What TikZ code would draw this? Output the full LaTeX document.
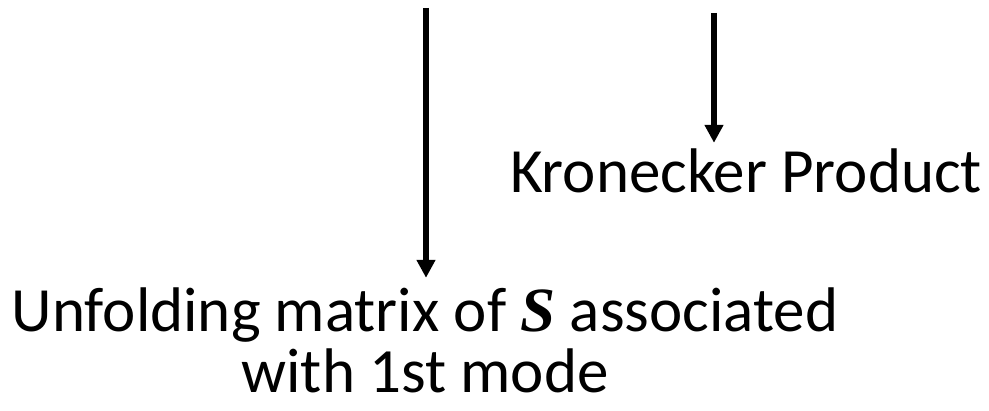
\documentclass[tikz,border=0pt]{standalone}
\usepackage{fontspec}
\setmainfont{Carlito}
\newfontfamily\symbfont{Liberation Serif}
\usetikzlibrary{arrows.meta}
\tikzset{
  label text/.style={inner sep=0pt, font=\fontsize{63}{61}\selectfont, text=black},
  pointer/.style={line width=6pt, -{Triangle[width=18pt,length=18pt]}, black}
}
\begin{document}
\begin{tikzpicture}[x=1pt,y=1pt]
  \useasboundingbox (0,0) rectangle (989,411);
  % captions (the two-line one sits on the baseline of its last line)
  \node[label text, anchor=base, align=center, text height=115pt] (unfold) at (425,18)
    {Unfolding matrix of {\symbfont\bfseries\itshape S} associated\\with 1st mode};
  \node[label text, anchor=base, text height=50pt] (kron) at (746,218) {Kronecker Product};
  % free upper ends of the pointers
  \coordinate (utop) at (426,403);
  \coordinate (ktop) at (714,398);
  % pointers
  \draw[pointer] (utop) -- (utop |- unfold.north);
  \draw[pointer] (ktop) -- (ktop |- kron.north);
\end{tikzpicture}
\end{document}
